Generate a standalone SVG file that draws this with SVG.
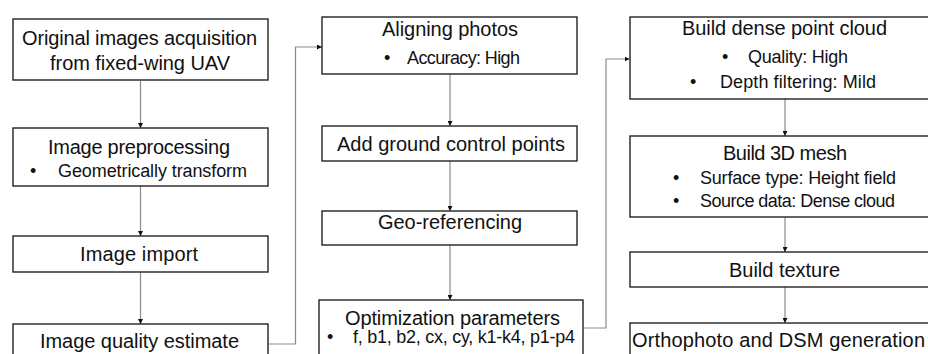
<svg xmlns="http://www.w3.org/2000/svg" width="928" height="354" viewBox="0 0 928 354">
<style>
.box{fill:#fff;stroke:#222;stroke-width:1.4}
.t{font-family:"Liberation Sans",Arial,sans-serif;font-size:20px;fill:#111}
.s{font-family:"Liberation Sans",Arial,sans-serif;font-size:18px;fill:#111}
.c{fill:none;stroke:#8a8a8a;stroke-width:1.2}
</style>
<defs>
<marker id="ah" viewBox="0 0 10 10" refX="10" refY="5" markerWidth="5" markerHeight="5" orient="auto" markerUnits="userSpaceOnUse">
<path d="M0,0 L10,5 L0,10 Z" fill="#111"/>
</marker>
</defs>
<rect width="928" height="354" fill="#fff"/>
<g id="connectors">
<path class="c" d="M140.5,81 V128" marker-end="url(#ah)"/>
<path class="c" d="M140.5,186 V236" marker-end="url(#ah)"/>
<path class="c" d="M140.5,272 V324" marker-end="url(#ah)"/>
<path class="c" d="M268,344 H295.5 V47 H322" marker-end="url(#ah)"/>
<path class="c" d="M450,74 V126" marker-end="url(#ah)"/>
<path class="c" d="M450,161 V211" marker-end="url(#ah)"/>
<path class="c" d="M450,245 V300" marker-end="url(#ah)"/>
<path class="c" d="M583,328 H606 V59 H629.5" marker-end="url(#ah)"/>
<path class="c" d="M785,99 V136" marker-end="url(#ah)"/>
<path class="c" d="M785,217 V252" marker-end="url(#ah)"/>
<path class="c" d="M785,287 V323" marker-end="url(#ah)"/>
</g>
<g id="n1">
<rect class="box" x="13" y="19" width="255" height="61"/>
<text class="t" x="22" y="45" textLength="235">Original images acquisition</text>
<text class="t" x="50" y="70" textLength="180">from fixed-wing UAV</text>
</g>
<g id="n2">
<rect class="box" x="13" y="128" width="255" height="58"/>
<text class="t" x="48" y="154" textLength="182">Image preprocessing</text>
<text class="s" x="30" y="177">•</text>
<text class="s" x="58" y="177" textLength="189">Geometrically transform</text>
</g>
<g id="n3">
<rect class="box" x="13" y="236" width="255" height="36"/>
<text class="t" x="80" y="261" textLength="118">Image import</text>
</g>
<g id="n4">
<rect class="box" x="13" y="324" width="255" height="40"/>
<text class="t" x="40" y="348" textLength="199">Image quality estimate</text>
</g>
<g id="n5">
<rect class="box" x="322" y="17" width="255" height="57"/>
<text class="t" x="382" y="36" textLength="136">Aligning photos</text>
<text class="s" x="384" y="64">•</text>
<text class="s" x="407" y="64" textLength="113">Accuracy: High</text>
</g>
<g id="n6">
<rect class="box" x="322" y="126" width="255" height="35"/>
<text class="t" x="337" y="151" textLength="228">Add ground control points</text>
</g>
<g id="n7">
<rect class="box" x="322" y="211" width="255" height="34"/>
<text class="t" x="378" y="229" textLength="144">Geo-referencing</text>
</g>
<g id="n8">
<rect class="box" x="319" y="300" width="264" height="64"/>
<text class="t" x="345" y="325" textLength="215">Optimization parameters</text>
<text class="s" x="327" y="343">•</text>
<text class="s" x="353" y="343" textLength="222">f, b1, b2, cx, cy, k1-k4, p1-p4</text>
</g>
<g id="n9">
<rect class="box" x="630" y="17" width="312" height="82"/>
<text class="t" x="682" y="35" textLength="205">Build dense point cloud</text>
<text class="s" x="722" y="63">•</text>
<text class="s" x="748" y="63" textLength="100">Quality: High</text>
<text class="s" x="690" y="88">•</text>
<text class="s" x="720" y="88" textLength="156">Depth filtering: Mild</text>
</g>
<g id="n10">
<rect class="box" x="630" y="136" width="312" height="81"/>
<text class="t" x="723" y="160" textLength="124">Build 3D mesh</text>
<text class="s" x="673" y="184">•</text>
<text class="s" x="700" y="184" textLength="196">Surface type: Height field</text>
<text class="s" x="673" y="207">•</text>
<text class="s" x="700" y="207" textLength="195">Source data: Dense cloud</text>
</g>
<g id="n11">
<rect class="box" x="630" y="252" width="312" height="35"/>
<text class="t" x="729" y="277" textLength="111">Build texture</text>
</g>
<g id="n12">
<rect class="box" x="630" y="323" width="312" height="41"/>
<text class="t" x="632" y="347" textLength="293">Orthophoto and DSM generation</text>
</g>
</svg>
